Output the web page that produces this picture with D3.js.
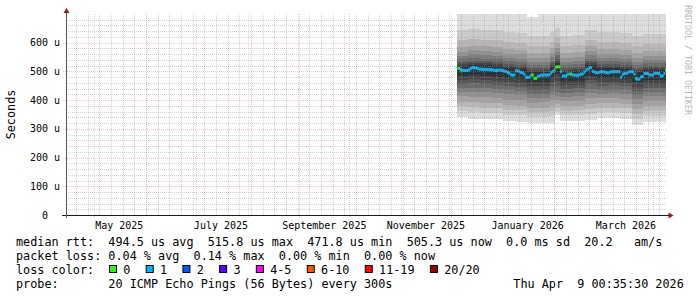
<!DOCTYPE html>
<html><head><meta charset="utf-8">
<script src="https://cdn.jsdelivr.net/npm/d3@7"></script>
<style>
html,body{margin:0;padding:0;background:#fff;}
svg{display:block;}
text{font-family:"DejaVu Sans Mono",monospace;white-space:pre;}
</style></head><body>
<svg id="c" width="697" height="297"></svg>
<script>
// ---------- data ----------
const endTime = Date.UTC(2026, 3, 9, 0, 35, 30);
const spanDays = 360;
const yTicks = [0, 100, 200, 300, 400, 500, 600];
const yTickLabels = ["  0  ", "100 u", "200 u", "300 u", "400 u", "500 u", "600 u"];
const xLabels = ["May 2025", "July 2025", "September 2025", "November 2025", "January 2026", "March 2026"];
const xLabelMonths = [[2025, 4], [2025, 6], [2025, 8], [2025, 10], [2026, 0], [2026, 2]];

const dataStart = Date.UTC(2025, 11, 4, 12, 0, 0);
// median rtt in microseconds, one value per day
const median = [
  511,510,505,504,503,503,504,506,511,513, 513,512,510,508,508,507,507,507,507,506,
  506,505,504,503,504,505,504,503,501,500, 496,494,488,487,488,502,502,500,496,495,
  490,480,479,480,487,488,476,476,483,484, 487,487,488,487,488,488,495,500,505,515,
  516,516,500,484,484,484,490,491,491,488, 487,487,486,488,491,491,497,505,508,512,
  513,500,498,496,495,497,499,499,498,496, 495,496,499,499,499,499,499,499,480,490,
  493,494,495,499,499,499,491,475,473,473, 481,482,493,493,493,488,488,487,493,494,
  493,492,484,485,493,505
];
// lost pings (of 20) per day
const loss = [
  1,0,1,1,1,1,1,1,1,1, 1,1,1,1,1,1,1,1,1,1,
  1,1,1,1,1,1,1,1,1,1, 1,1,1,1,1,1,1,1,1,1,
  1,1,1,1,1,0,0,0,1,1, 1,1,1,1,1,1,1,1,1,0,
  0,0,1,1,1,1,1,1,0,1, 1,1,1,1,1,1,1,1,1,1,
  1,1,1,1,1,1,1,1,1,1, 1,1,1,1,1,1,1,1,1,1,
  1,1,1,1,1,1,1,1,1,1, 1,1,1,1,1,1,1,1,1,1,
  1,1,1,1,1,0
];
// smoke: sorted 20 ping rtts (us) per period starting at the given day offset
const smokeDays = [0,7,14,21,28,35,42,49,56,59,62,70,77,84,91,98,105,112,119];
const smokeRows = [
  [340,361,378,395,413,429,443,457,471,485,520,527,534,544,555,569,586,610,645,720],
  [336,358,376,393,412,430,444,459,473,488,524,531,538,548,559,573,590,614,649,712],
  [334,356,373,391,410,427,442,456,471,485,521,528,535,545,556,570,587,611,646,718],
  [333,355,372,389,408,425,440,454,468,482,518,525,532,542,553,567,584,608,643,716],
  [328,349,367,384,402,420,434,448,462,477,512,519,526,536,547,561,578,602,637,710],
  [325,347,364,381,400,417,432,446,460,474,510,517,524,534,545,559,576,600,635,705],
  [320,341,357,374,391,408,422,435,449,462,497,504,511,521,532,546,563,587,622,690],
  [319,340,357,374,392,408,422,436,450,464,499,506,513,523,534,548,565,589,624,700],
  [322,344,363,381,400,418,433,448,463,478,514,521,528,538,549,563,580,604,639,712],
  [348,360,372,385,400,415,430,448,468,490,528,536,545,556,568,582,598,620,652,720],
  [327,347,363,379,396,412,425,439,452,465,499,506,513,523,534,548,565,589,624,700],
  [327,347,364,380,397,414,427,441,454,468,502,509,516,526,537,551,568,592,627,705],
  [330,352,370,388,407,425,440,455,470,485,521,528,535,545,556,570,587,611,646,716],
  [337,357,373,390,407,423,437,450,463,477,511,518,525,535,546,560,577,601,636,712],
  [337,357,374,390,407,424,437,451,464,478,512,519,526,536,547,561,578,602,637,708],
  [336,356,372,388,405,421,434,448,461,474,508,515,522,532,543,557,574,598,633,710],
  [313,334,352,369,387,405,419,433,447,462,497,504,511,521,532,546,563,587,622,700],
  [325,346,363,379,397,414,428,442,455,469,504,511,518,528,539,553,570,594,629,706],
  [325,346,363,379,397,414,428,442,455,469,504,511,518,528,539,553,570,594,629,712]
];
const smokeGrays = [221,202,183,164,145,126,107,88,69,50];

const lossLabels = ["0", "1", "2", "3", "4-5", "6-10", "11-19", "20/20"];
const lossColors = ["#26ff00", "#00b8ff", "#0059ff", "#5e00ff", "#ff00ff", "#ff5500", "#ff0000", "#a00000"];
const lossUpper = [0, 1, 2, 3, 5, 10, 19, 20];

const legendRow1 = "median rtt:  494.5 us avg  515.8 us max  471.8 us min  505.3 us now  0.0 ms sd  20.2   am/s";
const legendRow2 = "packet loss: 0.04 % avg  0.14 % max  0.00 % min  0.00 % now";
const legendRow3 = "loss color:";
const legendRow4 = "probe:       20 ICMP Echo Pings (56 Bytes) every 300s";
const stampText = "Thu Apr  9 00:35:30 2026";
const yTitle = "Seconds";
const sideText = "RRDTOOL / TOBI OETIKER";

// ---------- drawing ----------
const DAY = 86400000;
const startTime = endTime - spanDays * DAY;
const svg = d3.select("#c");
const L = 66, R = 666, T = 14, B = 215;
const x = d3.scaleUtc().domain([startTime, endTime]).range([L, R]);
const y = d3.scaleLinear().domain([0, 700]).range([B, T]);

svg.append("defs").append("clipPath").attr("id", "pc")
  .append("rect").attr("x", L).attr("y", T).attr("width", R - L).attr("height", B - T);

const plot = svg.append("g").attr("clip-path", "url(#pc)");

// smoke
const rows = smokeDays.map((d, i) => ({ t: dataStart + d * DAY, v: smokeRows[i] }));
rows.push({ t: endTime, v: smokeRows[smokeRows.length - 1] });
for (let b = 0; b < 10; b++) {
  const area = d3.area()
    .x(d => x(d.t))
    .y0(d => y(d.v[b]))
    .y1(d => y(d.v[19 - b]))
    .curve(d3.curveStepAfter);
  const g = smokeGrays[b];
  plot.append("path").datum(rows).attr("d", area)
    .attr("fill", d3.rgb(g, g, g)).attr("shape-rendering", "crispEdges");
}

// median band coloured by loss
const medW = 5.2;
function lossColor(l) {
  for (let k = 0; k < lossUpper.length; k++) if (l <= lossUpper[k]) return lossColors[k];
  return lossColors[lossColors.length - 1];
}
median.forEach((m, i) => {
  const t0 = dataStart + i * DAY;
  const t1 = Math.min(t0 + DAY, endTime);
  plot.append("rect")
    .attr("x", x(t0)).attr("width", Math.max(0, x(t1) - x(t0)) + 0.3)
    .attr("y", y(m + medW)).attr("height", y(m - medW) - y(m + medW))
    .attr("fill", lossColor(loss[i]));
});

// grid (drawn over the graph)
const grid = svg.append("g").attr("shape-rendering", "crispEdges");
const minorC = "rgba(150,150,150,0.42)", majorC = "rgba(235,120,120,0.42)", majorV = "rgba(235,120,120,0.33)";
d3.utcSunday.range(new Date(startTime), new Date(endTime)).forEach(d => {
  const xx = Math.round(x(d)) + 0.5;
  grid.append("line").attr("x1", xx).attr("x2", xx).attr("y1", T).attr("y2", B)
    .attr("stroke", minorC).attr("stroke-dasharray", "1,1");
});
d3.range(20, 700, 20).filter(v => v % 100 !== 0).forEach(v => {
  const yy = Math.round(y(v)) + 0.5;
  grid.append("line").attr("x1", L).attr("x2", R).attr("y1", yy).attr("y2", yy)
    .attr("stroke", minorC).attr("stroke-dasharray", "1,1");
});
d3.utcMonth.range(new Date(startTime), new Date(endTime)).forEach(d => {
  const xx = Math.round(x(d)) + 0.5;
  grid.append("line").attr("x1", xx).attr("x2", xx).attr("y1", T).attr("y2", B + 2)
    .attr("stroke", majorV).attr("stroke-dasharray", "1,1");
});
yTicks.filter(v => v > 0).forEach(v => {
  const yy = Math.round(y(v)) + 0.5;
  grid.append("line").attr("x1", L - 3).attr("x2", R).attr("y1", yy).attr("y2", yy)
    .attr("stroke", majorC).attr("stroke-dasharray", "1,1");
});

// axes
const axC = "#1a1a1a";
svg.append("line").attr("x1", L - 4).attr("x2", R + 3).attr("y1", B + 0.5).attr("y2", B + 0.5)
  .attr("stroke", axC);
svg.append("line").attr("x1", L + 0.5).attr("x2", L + 0.5).attr("y1", T - 3).attr("y2", B + 3)
  .attr("stroke", "#555");
const arC = "#8e1c1c";
svg.append("path").attr("d", `M${L + 0.5},${T - 6} L${L - 2.5},${T - 1} L${L + 3.5},${T - 1} Z`).attr("fill", arC);
svg.append("path").attr("d", `M${R + 7.5},${B + 0.5} L${R + 2.5},${B - 2.5} L${R + 2.5},${B + 3.5} Z`).attr("fill", arC);

// y tick labels
yTicks.forEach((v, i) => {
  svg.append("text").attr("x", 60).attr("y", y(v) + 3.5).attr("text-anchor", "end")
    .attr("font-size", "10px").attr("fill", "#000").text(yTickLabels[i]);
});
// x labels (centred half a month after the month start)
xLabels.forEach((lab, i) => {
  const [yr, mo] = xLabelMonths[i];
  const t = Date.UTC(yr, mo, 1) + 15 * DAY;
  svg.append("text").attr("x", x(t)).attr("y", 228.5).attr("text-anchor", "middle")
    .attr("font-size", "10px").attr("fill", "#000").text(lab);
});

// y title
svg.append("text").attr("transform", `translate(14.5,${(T + B) / 2}) rotate(-90)`)
  .attr("text-anchor", "middle").attr("font-size", "11.8px").attr("fill", "#000").text(yTitle);

// side text
svg.append("text").attr("transform", "translate(684.5,5) rotate(90)")
  .attr("font-size", "8.3px").attr("fill", "#b8b8b8").text(sideText);

// legend
const FS = "11.8px";
[[legendRow1, 245.5], [legendRow2, 259.5], [legendRow3, 273.5], [legendRow4, 287.5]].forEach(([s, yy]) => {
  svg.append("text").attr("x", 16).attr("y", yy).attr("font-size", FS).attr("fill", "#000").text(s);
});
let bx = 109;
lossLabels.forEach((lab, i) => {
  svg.append("rect").attr("x", bx + 0.5).attr("y", 265.5).attr("width", 7).attr("height", 7)
    .attr("fill", lossColors[i]).attr("stroke", "#000");
  const t = svg.append("text").attr("x", bx + 14.3).attr("y", 273.5).attr("font-size", FS)
    .attr("fill", "#000").text(lab);
  bx = bx + 14.3 + t.node().getComputedTextLength() + 15.3;
});
svg.append("text").attr("x", 513.3).attr("y", 287.5).attr("font-size", FS).attr("fill", "#000").text(stampText);
</script>
</body></html>
